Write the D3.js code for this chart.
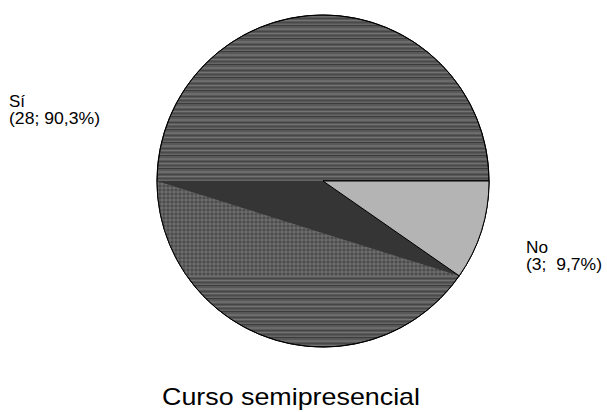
<!DOCTYPE html>
<html><head><meta charset="utf-8">
<script src="https://cdn.jsdelivr.net/npm/d3@7"></script>
<style>body{margin:0;background:#fff}svg{display:block}</style>
</head><body>
<svg id="c" width="607" height="412"></svg>
<script>
const categories = ["Sí", "No"];
const values = [28, 3];
const percents = ["90,3%", "9,7%"];
const title = "Curso semipresencial";

const svg = d3.select("#c");
const cx = 323, cy = 181, r = 166;
const defs = svg.append("defs");
const pat = defs.append("pattern").attr("id","streak").attr("patternUnits","userSpaceOnUse")
  .attr("width", 400).attr("height", 13);
pat.append("rect").attr("width",400).attr("height",13).attr("fill","#585858");
[[0,1,"#3c3c3c"],[3,2,"#6c6c6c"],[6,1,"#464646"],[8,1,"#737373"],[10,1,"#4a4a4a"],[12,1,"#666"]].forEach(([y,h,c])=>
  pat.append("rect").attr("y",y).attr("width",400).attr("height",h).attr("fill",c));
const pat2 = defs.append("pattern").attr("id","moire").attr("patternUnits","userSpaceOnUse")
  .attr("width", 4).attr("height", 4);
pat2.append("rect").attr("width",4).attr("height",4).attr("fill","#5e5e5e");
pat2.append("rect").attr("width",2).attr("height",2).attr("fill","#4c4c4c");
pat2.append("rect").attr("x",2).attr("y",2).attr("width",2).attr("height",2).attr("fill","#6c6c6c");

// counter-clockwise from 3 o'clock: "No" ends up just below the horizontal
const pie = d3.pie().sort(null).startAngle(Math.PI/2 + 2*Math.PI).endAngle(Math.PI/2);
const arcs = pie(values);
const arc = d3.arc().innerRadius(0).outerRadius(r);
const g = svg.append("g").attr("transform", `translate(${cx},${cy})`);
const fills = ["url(#streak)", "#b4b4b4"];
g.selectAll("path.slice").data(arcs).join("path").attr("class","slice")
  .attr("d", arc).attr("fill", (d,i)=>fills[i]).attr("stroke","#000").attr("stroke-width",1);

// rendering artifacts of the original: dark triangle and moiré fan
const pt = a => [r*Math.sin(a), -r*Math.cos(a)];
const aE = arcs[1].startAngle;
const pL = pt(3*Math.PI/2), pE = pt(aE), pM = pt(2*Math.PI - aE);
g.append("path").attr("d", `M${pL[0]},${pL[1]}L${pE[0]},${pE[1]}L${pM[0]},${pM[1]}A${r},${r} 0 0 1 ${pL[0]},${pL[1]}Z`)
  .attr("fill","url(#moire)");
g.append("path").attr("d", `M0,0L${pL[0]},${pL[1]}L${pE[0]},${pE[1]}Z`).attr("fill","#353535");
g.append("circle").attr("r", r).attr("fill","none").attr("stroke","#000");
g.append("path").attr("d", arc(arcs[1])).attr("fill","#b4b4b4").attr("stroke","#000");

const font = "Liberation Sans, Arial, sans-serif";
const labels = [{x:9, y:107, w:[16,91]}, {x:526, y:253, w:[22,76]}];
labels.forEach((p,i)=>{
  const t = svg.append("text").attr("font-family",font).attr("font-size",16.5).attr("fill","#000");
  t.append("tspan").attr("x",p.x).attr("y",p.y).attr("textLength",p.w[0]).attr("lengthAdjust","spacingAndGlyphs").text(categories[i]);
  t.append("tspan").attr("x",p.x).attr("y",p.y+16.5).attr("textLength",p.w[1]).attr("lengthAdjust","spacingAndGlyphs")
    .text(`(${values[i]}; ${i===1?"\u00a0":""}${percents[i]})`);
});
svg.append("text").attr("x",162).attr("y",405).attr("font-family",font)
  .attr("font-size",24).attr("textLength",258).attr("lengthAdjust","spacingAndGlyphs").attr("fill","#000").text(title);
</script>
</body></html>
